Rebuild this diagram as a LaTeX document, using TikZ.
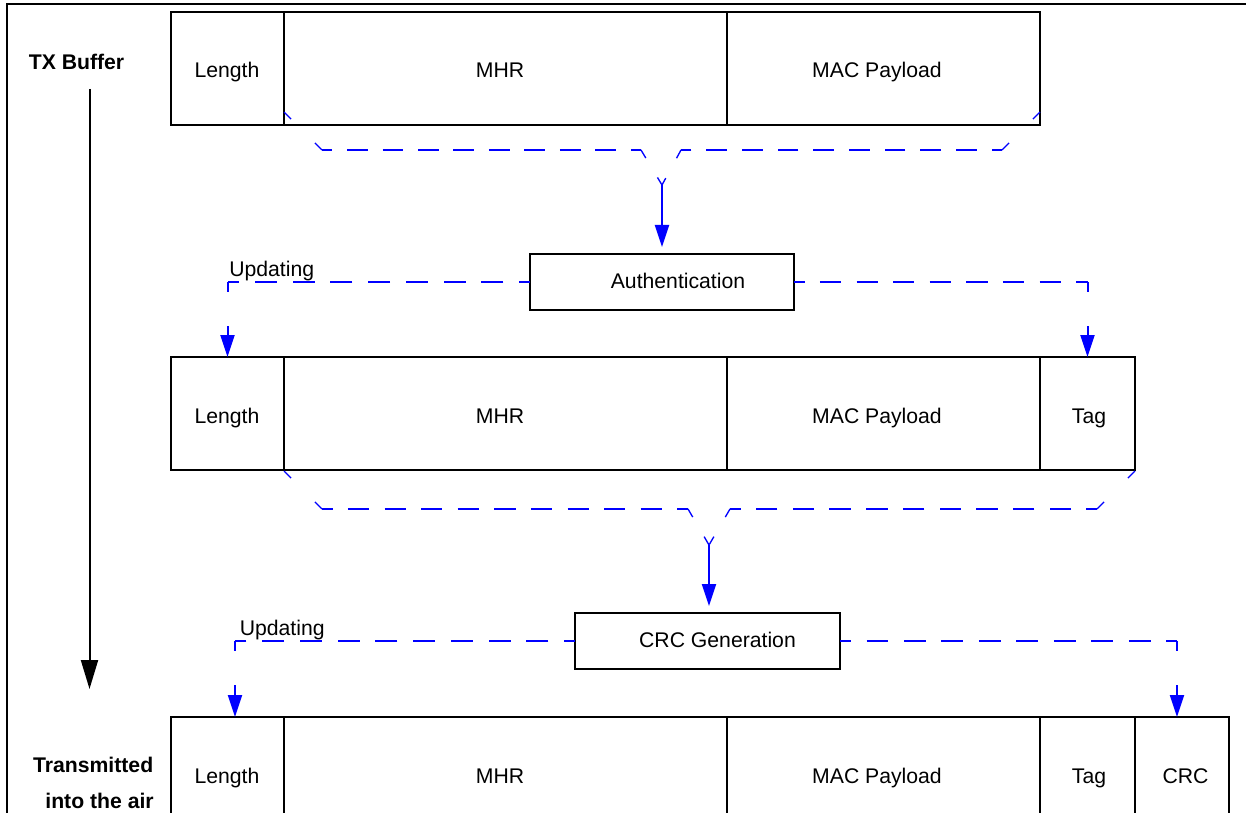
\documentclass[tikz,border=0pt]{standalone}
\usepackage{fontspec}
\setmainfont{Liberation Sans}
\usetikzlibrary{arrows.meta,calc}
\begin{document}
\begin{tikzpicture}[x=0.75pt,y=-0.75pt,
  field/.style={draw, line width=1.5pt, inner sep=0pt, outer sep=0pt, anchor=north west},
  txt/.style={font=\fontsize{15.9}{19}\selectfont, inner sep=0pt, anchor=base},
  btxt/.style={font=\fontsize{15.9}{19}\selectfont\bfseries, inner sep=0pt},
  blu/.style={draw=blue, line width=1.5pt},
  diagd/.style={draw=blue, line width=1pt, dash pattern=on 7.5pt off 25.3pt},
  midd/.style={draw=blue, line width=1pt, dash pattern=on 7pt off 17pt},
  vertd/.style={draw=blue, line width=1.5pt, dash pattern=on 7.5pt off 25.5pt on 60pt off 1pt,
    -{Triangle[length=16.5pt,width=10.5pt]}},
  bard/.style={draw=blue, line width=1.5pt, -{Triangle[length=16.5pt,width=10.5pt]}, shorten >=5.25pt}
]
\clip (0,0) rectangle (1246,813);
% outer frame
\draw[line width=1.5pt] (7,900) -- (7,4) -- (1300,4);

% row 1
\node[field, minimum width={113*0.75pt}, minimum height={113*0.75pt}] (len1) at (171,12) {};
\node[field, minimum width={443*0.75pt}, minimum height={113*0.75pt}] (mhr1) at (284,12) {};
\node[field, minimum width={313*0.75pt}, minimum height={113*0.75pt}] (mac1) at (727,12) {};
\node[txt] (tlen1) at (227,78) {Length};
\node[txt] (tmhr1) at (500,78) {MHR};
\node[txt] (tmac1) at (877,78) {MAC Payload};

% row 2
\node[field, minimum width={113*0.75pt}, minimum height={113*0.75pt}] (len2) at (171,357) {};
\node[field, minimum width={443*0.75pt}, minimum height={113*0.75pt}] (mhr2) at (284,357) {};
\node[field, minimum width={313*0.75pt}, minimum height={113*0.75pt}] (mac2) at (727,357) {};
\node[field, minimum width={95*0.75pt}, minimum height={113*0.75pt}] (tag2) at (1040,357) {};
\node[txt] (tlen2) at (227,423) {Length};
\node[txt] (tmhr2) at (500,423) {MHR};
\node[txt] (tmac2) at (877,423) {MAC Payload};
\node[txt] (ttag2) at (1089,423) {Tag};

% row 3
\node[field, minimum width={113*0.75pt}, minimum height={120*0.75pt}] (len3) at (171,717) {};
\node[field, minimum width={443*0.75pt}, minimum height={120*0.75pt}] (mhr3) at (284,717) {};
\node[field, minimum width={313*0.75pt}, minimum height={120*0.75pt}] (mac3) at (727,717) {};
\node[field, minimum width={95*0.75pt}, minimum height={120*0.75pt}] (tag3) at (1040,717) {};
\node[field, minimum width={94*0.75pt}, minimum height={120*0.75pt}] (crc3) at (1135,717) {};
\node[txt] (tlen3) at (227,783) {Length};
\node[txt] (tmhr3) at (500,783) {MHR};
\node[txt] (tmac3) at (877,783) {MAC Payload};
\node[txt] (ttag3) at (1089,783) {Tag};
\node[txt] (tcrc3) at (1185.5,783) {CRC};

% process boxes
\node[field, minimum width={264*0.75pt}, minimum height={56*0.75pt}] (auth) at (530,254) {};
\node[txt] (tauth) at (678,288) {Authentication};
\node[field, minimum width={265*0.75pt}, minimum height={56*0.75pt}] (crcg) at (575,613) {};
\node[txt] (tcrcg) at (717.5,647) {CRC Generation};

% side labels
\node[btxt, anchor=base] (txb) at (76.5,70) {TX Buffer};
\node[btxt, anchor=base east] (tr1) at (153.5,772) {Transmitted};
\node[btxt, anchor=base east] (tr2) at (154,808) {into the air};
\coordinate (as) at (89.5,89);
\coordinate (ae) at (89.5,689);
\draw[line width=1.5pt, -{Triangle[length=21.75pt,width=12.75pt]}] (as) -- (ae);

% brace 1
\coordinate (b1c) at (662,185);
\draw[diagd] (284,112) -- (322,150);
\draw[blu, dash pattern=on 15.51pt off 11.08pt, dash phase=7.75pt] (322,150) -- (641,150);
\draw[midd] (641,150) -- (b1c);
\draw[diagd] (1040,112) -- (1002,150);
\draw[blu, dash pattern=on 15.6pt off 11.15pt, dash phase=7.8pt] (1002,150) -- (681,150);
\draw[midd] (681,150) -- (b1c);
\draw[bard] (b1c) -- (auth.north);

% updating after authentication
\coordinate (u1l) at (len2.north |- auth.west);
\coordinate (u1r) at (tag2.north |- auth.east);
\draw[blu, dash pattern=on 16.5pt off 11.8pt, dash phase=8.26pt] (auth.west) -- (u1l);
\draw[vertd] (u1l) -- (len2.north);
\draw[blu, dash pattern=on 16pt off 11.45pt, dash phase=8pt] (auth.east) -- (u1r);
\draw[vertd] (u1r) -- (tag2.north);
\node[txt, anchor=base west] (up1) at (229,276) {Updating};

% brace 2
\coordinate (b2c) at (709,545);
\draw[diagd] (284,471) -- (322,509);
\draw[blu, dash pattern=on 16.01pt off 11.44pt, dash phase=8pt] (322,509) -- (688,509);
\draw[midd] (688,509) -- (b2c);
\draw[diagd] (1135,471) -- (1097,509);
\draw[blu, dash pattern=on 16.05pt off 11.47pt, dash phase=8.03pt] (1097,509) -- (730,509);
\draw[midd] (730,509) -- (b2c);
\draw[bard] (b2c) -- (b2c |- crcg.north);

% updating after CRC generation
\coordinate (u2l) at (235,641);
\coordinate (u2r) at (1177,641);
\draw[blu, dash pattern=on 16.5pt off 11.8pt, dash phase=8.26pt] (crcg.west) -- (u2l);
\draw[vertd] (u2l) -- (u2l |- len3.north);
\draw[blu, dash pattern=on 16.4pt off 11.7pt, dash phase=8.2pt] (crcg.east) -- (u2r);
\draw[vertd] (u2r) -- (u2r |- crc3.north);
\node[txt, anchor=base west] (up2) at (239.5,635) {Updating};
\end{tikzpicture}
\end{document}
